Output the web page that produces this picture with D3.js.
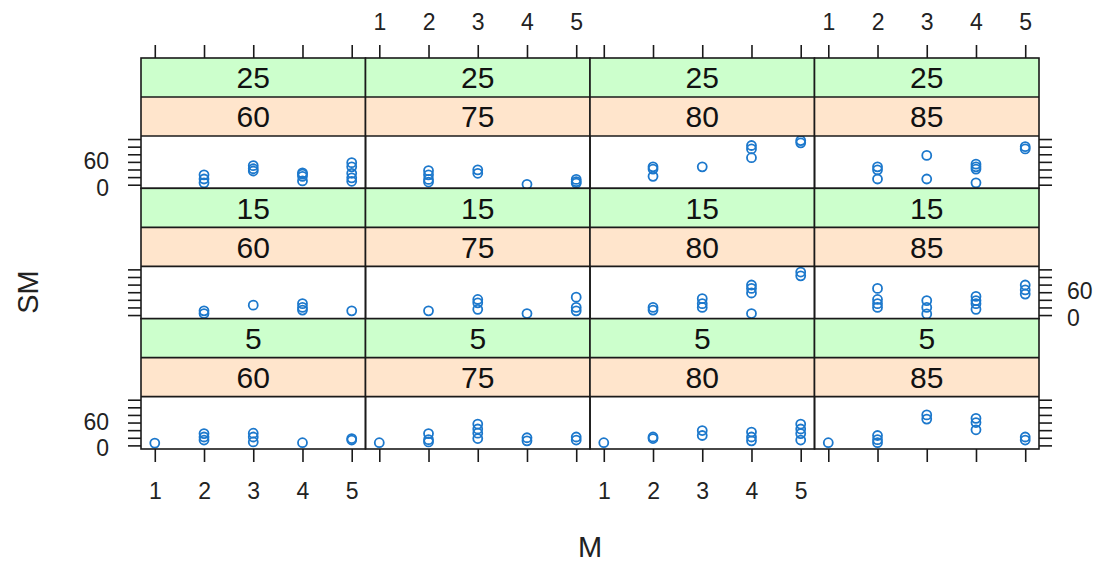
<!DOCTYPE html>
<html>
<head>
<meta charset="utf-8">
<script src="https://cdn.jsdelivr.net/npm/d3@7"></script>
<style>
  body { margin: 0; background: #fff; }
  svg { display: block; font-family: "Liberation Sans", Arial, sans-serif; }
</style>
</head>
<body>
<div id="chart"></div>
<script>
// conditioning levels (green = outer strip, peach = inner strip)
const greenLevels = ["25", "15", "5"]; // top row to bottom row
const peachLevels = ["60", "75", "80", "85"];
const xTicks = [1, 2, 3, 4, 5];
const yTicks = [0, 20, 40, 60, 80, 100, 120];
const yLabels = [0, 60];

// points [M, SM] per panel
const p25_60 = [[2, 26], [2, 15], [2, 5], [3, 50], [3, 42], [3, 36], [4, 31], [4, 28], [4, 22], [4, 10], [5, 58], [5, 47], [5, 30], [5, 18], [5, 9]];
const p25_75 = [[2, 37], [2, 26], [2, 14], [2, 7], [3, 39], [3, 30], [4, 1], [5, 14], [5, 8], [5, 4]];
const p25_80 = [[2, 47], [2, 41], [2, 22], [3, 47], [4, 103], [4, 94], [4, 71], [5, 116], [5, 110]];
const p25_85 = [[2, 47], [2, 39], [2, 15], [3, 77], [3, 15], [4, 54], [4, 47], [4, 41], [4, 5], [5, 100], [5, 94]];

const p15_60 = [[2, 11], [2, 4], [3, 26], [4, 30], [4, 20], [4, 13], [5, 11]];
const p15_75 = [[2, 11], [3, 41], [3, 32], [3, 15], [4, 4], [5, 47], [5, 20], [5, 11]];
const p15_80 = [[2, 20], [2, 13], [3, 43], [3, 30], [3, 20], [4, 79], [4, 70], [4, 58], [4, 4], [5, 113], [5, 103]];
const p15_85 = [[2, 70], [2, 41], [2, 30], [2, 20], [3, 38], [3, 20], [3, 3], [4, 49], [4, 38], [4, 30], [4, 15], [5, 79], [5, 66], [5, 55]];

const p5_60 = [[1, 6], [2, 31], [2, 22], [2, 14], [3, 32], [3, 22], [3, 9], [4, 7], [5, 18], [5, 14]];
const p5_75 = [[1, 7], [2, 31], [2, 15], [2, 9], [3, 56], [3, 43], [3, 32], [3, 18], [4, 20], [4, 12], [5, 22], [5, 14]];
const p5_80 = [[1, 7], [2, 22], [2, 18], [3, 39], [3, 26], [4, 35], [4, 22], [4, 12], [5, 56], [5, 43], [5, 31], [5, 14]];
const p5_85 = [[1, 7], [2, 26], [2, 15], [2, 7], [3, 80], [3, 69], [4, 71], [4, 60], [4, 41], [5, 22], [5, 14]];

const panelData = [
  [p25_60, p25_75, p25_80, p25_85],
  [p15_60, p15_75, p15_80, p15_85],
  [p5_60, p5_75, p5_80, p5_85]
];

const W = 1100, H = 563;
const gridLeft = 141, gridRight = 1039, gridTop = 58, gridBottom = 449;
const colW = (gridRight - gridLeft) / 4;
const rowH = (gridBottom - gridTop) / 3;
const stripH = 39;
const tickLen = 13;
const panelH = rowH - 2 * stripH;

const svg = d3.select("#chart").append("svg")
  .attr("width", W)
  .attr("height", H);

const x = d3.scaleLinear().domain([0.72, 5.28]).range([0, colW]);
const y = d3.scaleLinear().domain([-9.5, 128]).range([panelH, 0]);

svg.append("defs").append("clipPath")
  .attr("id", "pclip")
  .append("rect")
  .attr("width", colW)
  .attr("height", panelH);

function styleAxis(g) {
  g.select(".domain").remove();
  g.selectAll(".tick line").attr("stroke", "#1a1a1a").attr("stroke-width", 1.6);
  g.selectAll(".tick text").attr("fill", "#222").style("font-size", "23px");
}

// the "0" label sits a touch below its tick, as in lattice output
function nudgeZero(g) {
  g.selectAll(".tick text").filter(d => d === 0).attr("dy", "0.45em");
  g.selectAll(".tick text").filter(d => d === 60).attr("dy", "0.28em");
}

greenLevels.forEach(function(gl, r) {
  const rowTop = gridTop + r * rowH;
  peachLevels.forEach(function(pl, c) {
    const x0 = gridLeft + c * colW;
    const g = svg.append("g").attr("transform", "translate(" + x0 + "," + rowTop + ")");

    // strips
    g.append("rect").attr("width", colW).attr("height", stripH).attr("fill", "#ccffcc");
    g.append("rect").attr("y", stripH).attr("width", colW).attr("height", stripH).attr("fill", "#ffe5cc");
    g.append("text").attr("x", colW / 2).attr("y", stripH / 2).attr("dy", "0.36em")
      .attr("text-anchor", "middle").style("font-size", "30px").attr("fill", "#111").text(gl);
    g.append("text").attr("x", colW / 2).attr("y", stripH * 1.5).attr("dy", "0.36em")
      .attr("text-anchor", "middle").style("font-size", "30px").attr("fill", "#111").text(pl);

    // panel points
    const p = g.append("g").attr("transform", "translate(0," + 2 * stripH + ")");
    p.append("g").attr("clip-path", "url(#pclip)")
      .selectAll("circle")
      .data(panelData[r][c])
      .enter()
      .append("circle")
      .attr("cx", d => x(d[0]))
      .attr("cy", d => y(d[1]))
      .attr("r", 4.5)
      .attr("fill", "none")
      .attr("stroke", "#1c78cc")
      .attr("stroke-width", 1.8);

    // borders
    g.append("line").attr("x1", 0).attr("x2", colW).attr("y1", stripH).attr("y2", stripH)
      .attr("stroke", "#1a1a1a").attr("stroke-width", 1.6);
    g.append("line").attr("x1", 0).attr("x2", colW).attr("y1", 2 * stripH).attr("y2", 2 * stripH)
      .attr("stroke", "#1a1a1a").attr("stroke-width", 1.6);
    g.append("rect").attr("width", colW).attr("height", rowH)
      .attr("fill", "none").attr("stroke", "#1a1a1a").attr("stroke-width", 1.6);

    // x axes: top row and bottom row
    if (r === 0) {
      const ax = g.append("g")
        .call(d3.axisTop(x).tickValues(xTicks).tickSize(tickLen).tickPadding(15)
          .tickFormat(c % 2 === 1 ? d3.format("d") : () => ""));
      styleAxis(ax);
    }
    if (r === 2) {
      const ax = g.append("g").attr("transform", "translate(0," + rowH + ")")
        .call(d3.axisBottom(x).tickValues(xTicks).tickSize(tickLen).tickPadding(21)
          .tickFormat(c % 2 === 0 ? d3.format("d") : () => ""));
      styleAxis(ax);
    }
    // y axes: left and right columns
    if (c === 0) {
      const ay = p.append("g")
        .call(d3.axisLeft(y).tickValues(yTicks).tickSize(tickLen).tickPadding(19)
          .tickFormat(d => (r !== 1 && yLabels.includes(d)) ? d : ""));
      styleAxis(ay);
      nudgeZero(ay);
    }
    if (c === 3) {
      const ay = p.append("g").attr("transform", "translate(" + colW + ",0)")
        .call(d3.axisRight(y).tickValues(yTicks).tickSize(tickLen).tickPadding(15)
          .tickFormat(d => (r === 1 && yLabels.includes(d)) ? d : ""));
      styleAxis(ay);
      nudgeZero(ay);
    }
  });
});

// axis titles
svg.append("text")
  .attr("x", (gridLeft + gridRight) / 2)
  .attr("y", 557)
  .attr("text-anchor", "middle")
  .style("font-size", "29px")
  .attr("fill", "#222")
  .text("M");

svg.append("text")
  .attr("transform", "translate(38,292) rotate(-90)")
  .attr("text-anchor", "middle")
  .style("font-size", "29px")
  .attr("fill", "#222")
  .text("SM");
</script>
</body>
</html>
